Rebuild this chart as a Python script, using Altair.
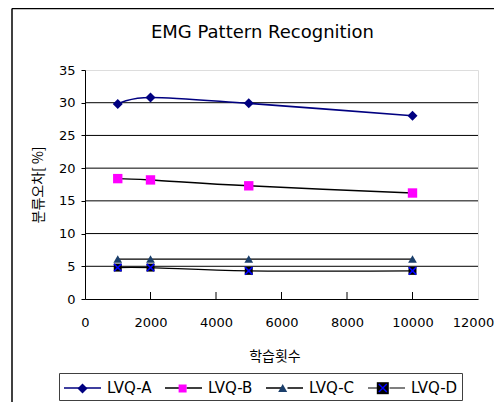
import altair as alt
import pandas as pd

# ---- data ----
iterations = [1000, 2000, 5000, 10000]
lvq_a = [29.8, 30.8, 29.9, 28.0]
lvq_b = [18.4, 18.2, 17.3, 16.2]
lvq_c = [6.1, 6.1, 6.1, 6.1]
lvq_d = [4.8, 4.8, 4.3, 4.3]
series_names = ["LVQ-A", "LVQ-B", "LVQ-C", "LVQ-D"]
x_ticks = [0, 2000, 4000, 6000, 8000, 10000, 12000]
x_inner_ticks = [2000, 4000, 6000, 8000, 10000]
y_ticks = [0, 5, 10, 15, 20, 25, 30, 35]
grid_values = [5, 10, 15, 20, 25, 30]

# ---- styles ----
line_colors = ["#000080", "#000000", "#000000", "#000000"]
line_widths = [1.6, 1.2, 1.2, 1.2]
marker_fills = ["#000080", "#FF00FF", "#1B3F6B", "#000000"]
marker_shapes = ["diamond", "square", "triangle-up", "square"]
marker_sizes = [100, 64, 70, 144]
# legend symbol shapes (unit box = 20 px, lines extend beyond it)
legend_line_path = "M-1.85,0L-0.3,0M0.3,0L1.85,0"
legend_marker_paths = [
    "M0,-0.5L0.5,0L0,0.5L-0.5,0Z",
    "M-0.4,-0.4L0.4,-0.4L0.4,0.4L-0.4,0.4Z",
    "M0,-0.45L0.45,0.35L-0.45,0.35Z",
    "M-0.6,-0.6L0.6,-0.6L0.6,0.6L-0.6,0.6Z",
]
legend_x_paths = [
    "M0,0",
    "M0,0",
    "M0,0",
    "M-0.35,-0.45L0.45,0.35L0.35,0.45L-0.45,-0.35ZM-0.45,0.35L0.35,-0.45L0.45,-0.35L-0.35,0.45Z",
]
legend_x_fills = ["transparent", "transparent", "transparent", "#0000FF"]

rows = []
for name, vals in zip(series_names, [lvq_a, lvq_b, lvq_c, lvq_d]):
    for it, v in zip(iterations, vals):
        rows.append({"series": name, "iter": it, "err": v})
df = pd.DataFrame(rows)

W, H = 393, 229
PAD = {"left": 77, "top": 62, "right": 16, "bottom": 103}
FONT = "DejaVu Sans"
KFONT = "Noto Sans CJK KR"

x_enc = alt.X(
    "iter:Q",
    scale=alt.Scale(domain=[0, 12000], nice=False, zero=False),
    axis=alt.Axis(
        values=x_ticks, format="d", title="학습횟수", tickSize=0, labelPadding=17,
        domainColor="#000000", domainWidth=1, grid=False, labelFlush=False,
        labelOffset={"condition": {"test": "datum.value == 12000", "value": -5}, "value": 0},
        labelFont=FONT, labelFontSize=13, labelColor="#000000",
        titleFont=KFONT, titleFontSize=14, titleFontWeight="normal", titleColor="#000000",
        titleX=189.5, titleY=61.5, titleAlign="center", titleBaseline="alphabetic",
    ),
)
y_enc = alt.Y(
    "err:Q",
    scale=alt.Scale(domain=[0, 35], nice=False, zero=False),
    axis=alt.Axis(
        values=y_ticks, title="분류오차[ %]", tickSize=4, tickColor="#000000", labelPadding=6,
        domainColor="#000000", domainWidth=1, grid=False, labelFlush=False,
        labelFont=FONT, labelFontSize=13, labelColor="#000000",
        titleFont=KFONT, titleFontSize=14, titleFontWeight="normal", titleColor="#000000",
        titleX=-42.7, titleY=114.5, titleAlign="center", titleBaseline="alphabetic",
    ),
)

common_leg = dict(
    title=None, orient="none", legendX=-26, legendY=303, direction="horizontal", columns=4,
    symbolSize=400, symbolOffset=8.5, symbolStrokeWidth=1.3,
    labelFont=FONT, labelFontSize=15, labelColor="#000000", labelOffset=13.5, padding=4,
)

grid = alt.Chart(pd.DataFrame({"err": grid_values})).mark_rule(
    color="#000000", strokeWidth=1
).encode(y=y_enc)

xticks = alt.Chart(pd.DataFrame({"iter": x_inner_ticks})).mark_rule(
    color="#000000", strokeWidth=1
).encode(x=x_enc, y=alt.value(H), y2=alt.value(H - 7))

# lines (their colour legend gives the legend's line strokes, labels and border)
lines = alt.Chart(df).mark_line(interpolate="cardinal", tension=0).encode(
    x=x_enc, y=y_enc,
    color=alt.Color(
        "series:N", scale=alt.Scale(domain=series_names, range=line_colors),
        legend=alt.Legend(symbolType=legend_line_path, strokeColor="#404040",
                          columnPadding=10, **common_leg),
    ),
    strokeWidth=alt.StrokeWidth("series:N", scale=alt.Scale(domain=series_names, range=line_widths), legend=None),
)

points = alt.Chart(df).mark_point(filled=True, opacity=1, strokeWidth=0).encode(
    x=x_enc, y=y_enc,
    shape=alt.Shape("series:N", scale=alt.Scale(domain=series_names, range=marker_shapes), legend=None),
    fill=alt.Fill("series:N", scale=alt.Scale(domain=series_names, range=marker_fills), legend=None),
    size=alt.Size("series:N", scale=alt.Scale(domain=series_names, range=marker_sizes), legend=None),
)

xmarks = alt.Chart(df).transform_filter("datum.series == 'LVQ-D'").mark_point(
    shape="M-1,-1L1,1M-1,1L1,-1", filled=False, color="#0000FF", size=56, strokeWidth=1.5, opacity=1
).encode(x=x_enc, y=y_enc)

# legend-only layers (no data rows drawn): markers, then the blue X of LVQ-D
leg_m = alt.Legend(symbolStrokeColor="transparent", labelExpr="''", columnPadding=56.1, **common_leg)
legend_markers = alt.Chart(df).transform_filter("datum.iter < 0").mark_point(
    filled=True, opacity=1, strokeWidth=0
).encode(
    x=x_enc, y=y_enc,
    shape=alt.Shape("series:N", scale=alt.Scale(domain=series_names, range=legend_marker_paths), legend=leg_m),
    fill=alt.Fill("series:N", scale=alt.Scale(domain=series_names, range=marker_fills), legend=leg_m),
)
leg_x = alt.Legend(symbolStrokeColor="transparent", labelExpr="''", columnPadding=56.1, **common_leg)
legend_xs = alt.Chart(df).transform_filter("datum.iter < 0").mark_point(
    filled=True, opacity=1, strokeWidth=0
).encode(
    x=x_enc, y=y_enc,
    shape=alt.Shape("series:N", scale=alt.Scale(domain=series_names, range=legend_x_paths), legend=leg_x),
    fill=alt.Fill("series:N", scale=alt.Scale(domain=series_names, range=legend_x_fills), legend=leg_x),
)

one = pd.DataFrame({"k": [0]})
frame_left = alt.Chart(one).mark_rule(color="#000000", strokeWidth=1.5).encode(
    x=alt.value(-73), y=alt.value(-61.5), y2=alt.value(H + PAD["bottom"])
)
frame_top = alt.Chart(one).mark_rule(color="#000000", strokeWidth=1.5).encode(
    x=alt.value(-73), x2=alt.value(W + PAD["right"]), y=alt.value(-61.5)
)

chart = alt.layer(
    grid, xticks, lines, points, xmarks, legend_markers, legend_xs, frame_left, frame_top
).resolve_scale(
    shape="independent", fill="independent", size="independent"
).properties(
    width=W, height=H,
    autosize=alt.AutoSizeParams(type="none"),
    padding=PAD,
    title=alt.TitleParams(
        "EMG Pattern Recognition", font=FONT, fontSize=18, fontWeight="normal",
        color="#000000", anchor="middle", dx=-19, offset=-34,
    ),
).configure_view(
    stroke="#808080", strokeWidth=1.5
).configure(background="#FFFFFF")

chart.save("out.html", embed_options={"renderer": "svg", "actions": False})
